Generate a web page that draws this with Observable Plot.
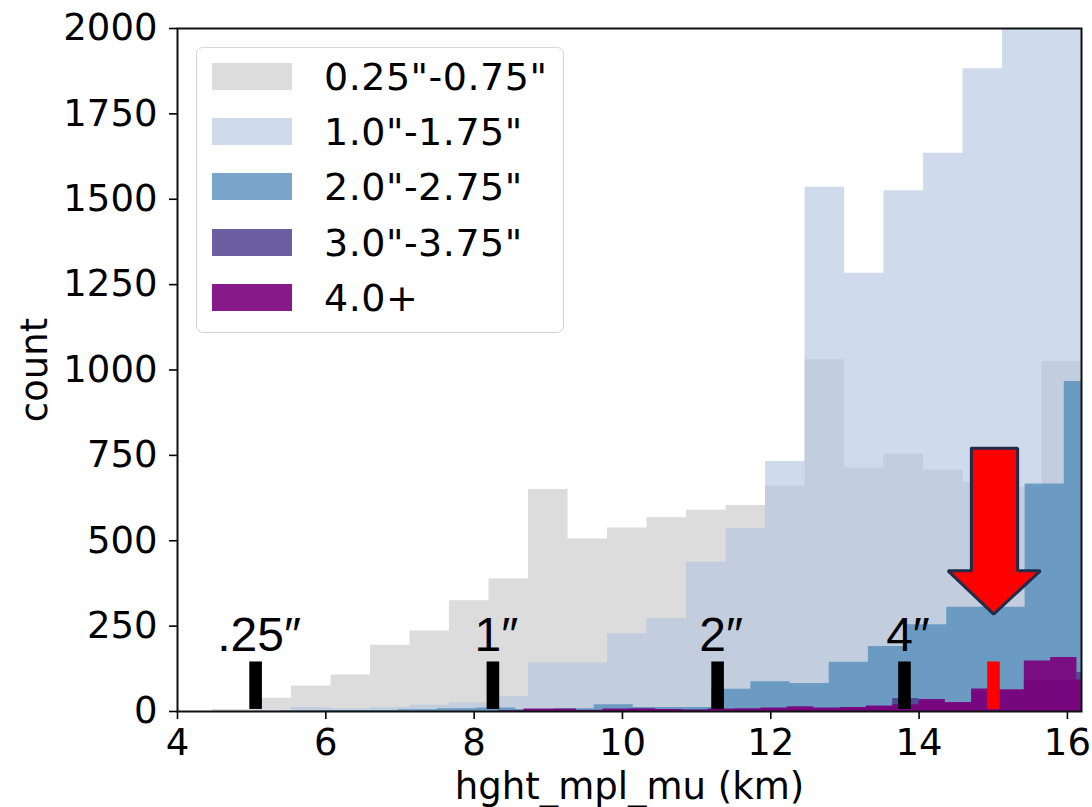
<!DOCTYPE html>
<html><head><meta charset="utf-8">
<script src="https://cdn.jsdelivr.net/npm/d3@7"></script>
<script src="https://cdn.jsdelivr.net/npm/@observablehq/plot@0.6"></script>
<style>
body{margin:0;background:#fff;}
#wrap{position:relative;width:1092px;height:807px;overflow:hidden;}
#legend{position:absolute;left:196px;top:47px;width:366px;height:284px;border:1.5px solid #d5d5d5;border-radius:7px;background:rgba(255,255,255,0.8);font-family:"DejaVu Sans";font-size:38px;color:#000;}
.row{position:absolute;left:15px;height:27px;width:340px;}
.sw{position:absolute;left:0;top:0;width:80px;height:27px;}
.lab{position:absolute;left:112px;top:1px;white-space:nowrap;line-height:27px;letter-spacing:0.5px;}
</style></head>
<body>
<div id="wrap"><div id="chart"></div><div id="legend"></div></div>
<script>
// ---- data ----
const seriesNames = ['0.25"-0.75"', '1.0"-1.75"', '2.0"-2.75"', '3.0"-3.75"', '4.0+'];
const binStart = [4.4717, 4.4717, 5.392, 8.317, 8.317];   // km, first bin edge
const binWidth = [0.5327, 0.5327, 0.5283, 0.3551, 0.3551]; // km
const countsSmall = [6, 39, 75, 107, 194, 236, 324, 388, 650, 505, 537, 567, 589, 603, 660, 1030, 713, 754, 707, 671, 656, 1025];
const countsOne = [0, 3, 12, 8, 12, 18, 25, 44, 142, 142, 228, 272, 437, 536, 732, 1535, 1283, 1525, 1635, 1882, 2120, 2300];
const countsTwo = [2, 3, 3, 5, 8, 10, 6, 8, 20, 12, 12, 65, 87, 82, 144, 190, 254, 305, 305, 666, 966];
const countsThree = [1, 4, 5, 4, 5, 6, 5, 5, 6, 6, 8, 9, 9, 10, 14, 38, 30, 24, 58, 60, 92, 92, 114];
const countsFour = [2, 7, 7, 3, 7, 8, 6, 4, 7, 8, 10, 14, 10, 12, 16, 20, 35, 26, 66, 64, 148, 158, 92];
const allCounts = [countsSmall, countsOne, countsTwo, countsThree, countsFour];

const xTicks = [4, 6, 8, 10, 12, 14, 16];
const yTicks = [0, 250, 500, 750, 1000, 1250, 1500, 1750, 2000];

const markerHeights = [5.06, 8.26, 11.29, 13.81];
const markerLabels = [".25\u2033", "1\u2033", "2\u2033", "4\u2033"];
const redMarkerHeight = [15.01];

const arrowX = [14.705, 15.329, 15.329, 15.635, 15.005, 14.39, 14.705, 14.705];
const arrowY = [771, 771, 412, 412, 285, 412, 412, 771];

// ---- styles ----
const fills = ["#dcdcdc", "#b3c6de", "#528cba", "#46378a", "#7b007b"];
const opac = [1, 0.63, 0.78, 0.8, 0.9];

// build step series
const stepData = allCounts.map((counts, s) => {
  const rows = counts.map((c, i) => ({x: binStart[s] + i * binWidth[s], y: c}));
  rows.push({x: binStart[s] + counts.length * binWidth[s], y: counts[counts.length - 1]});
  return rows;
});
const arrowPts = arrowX.map((x, i) => ({x, y: arrowY[i]}));
const hw = 0.085;

const marks = [];
stepData.forEach((rows, s) => {
  marks.push(Plot.areaY(rows, {x: "x", y: "y", curve: "step-after", fill: fills[s], fillOpacity: opac[s], clip: true}));
});
marks.push(
  Plot.rect(markerHeights, {x1: d => d - hw, x2: d => d + hw, y1: 6, y2: 145, fill: "black"}),
  Plot.rect(redMarkerHeight, {x1: d => d - hw, x2: d => d + hw, y1: 6, y2: 145, fill: "#ff0000"}),
  Plot.text(markerHeights, {x: d => d, y: 178, text: (d, i) => markerLabels[i], lineAnchor: "bottom", textAnchor: "middle", dx: 3, fontSize: 48, fontFamily: "Liberation Sans", fill: "black"}),
  Plot.line(arrowPts, {x: "x", y: "y", fill: "#ff0000", stroke: "#1f2d4a", strokeWidth: 3, strokeLinejoin: "miter", curve: "linear"}),
  Plot.axisX({ticks: xTicks, tickFormat: d => String(d), tickSize: 8, tickPadding: 9, label: null, fontSize: 37, strokeWidth: 1.6}),
  Plot.axisY({ticks: yTicks, tickFormat: d => String(d), tickSize: 8, tickPadding: 12, label: null, fontSize: 37, strokeWidth: 1.6}),
  Plot.frame({stroke: "#111", strokeWidth: 2}),
  Plot.text(["hght_mpl_mu (km)"], {frameAnchor: "bottom", dy: 87, lineAnchor: "bottom", textAnchor: "middle", fontSize: 37, fill: "black"}),
  Plot.text(["count"], {frameAnchor: "left", dx: -142, rotate: -90, lineAnchor: "middle", textAnchor: "middle", fontSize: 37, fill: "black"})
);

const chart = Plot.plot({
  width: 1092, height: 807,
  marginLeft: 177, marginRight: 11, marginTop: 28, marginBottom: 96,
  style: {fontFamily: "DejaVu Sans", fontSize: "37px", color: "black", background: "white"},
  x: {domain: [4, 16.19]},
  y: {domain: [0, 2000]},
  marks
});
document.getElementById("chart").appendChild(chart);

// legend
const lg = document.getElementById("legend");
seriesNames.forEach((name, s) => {
  const row = document.createElement("div");
  row.className = "row";
  row.style.top = (15 + s * 55.2) + "px";
  const sw = document.createElement("div");
  sw.className = "sw";
  sw.style.background = fills[s];
  sw.style.opacity = opac[s];
  const lab = document.createElement("div");
  lab.className = "lab";
  lab.textContent = name;
  row.appendChild(sw); row.appendChild(lab);
  lg.appendChild(row);
});
</script>
</body></html>
